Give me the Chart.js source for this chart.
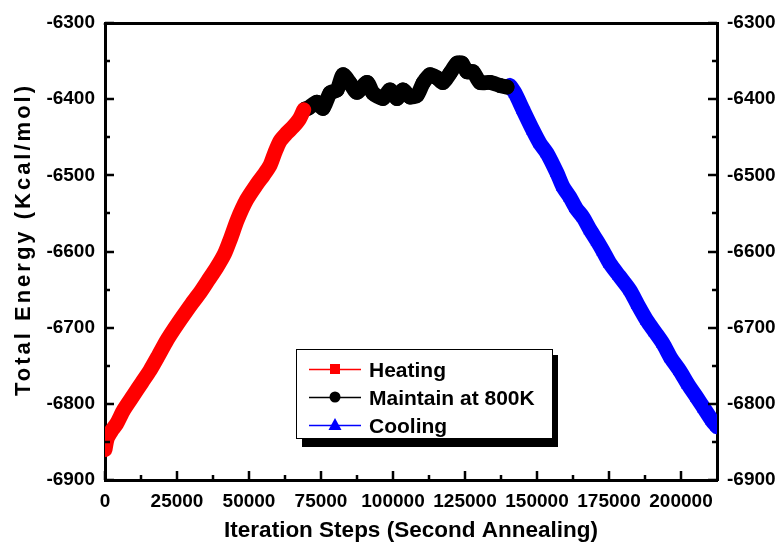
<!DOCTYPE html>
<html>
<head>
<meta charset="utf-8">
<script src="https://cdn.jsdelivr.net/npm/chart.js@4/dist/chart.umd.min.js"></script>
<style>
  html, body { margin: 0; padding: 0; background: #fff; }
  #wrap { width: 781px; height: 550px; }
</style>
</head>
<body>
<div id="wrap"><canvas id="c" width="781" height="550"></canvas></div>
<script>
// ---- data ----
const heatSteps = [0, 800, 2500, 4051, 6500, 9838, 12800, 15625, 18500, 21412, 24300, 27199, 30000, 32986, 35800, 38773, 41500, 43403, 46000, 49190, 52662, 55000, 57292, 59000, 60764, 63000, 65394, 67500, 69000];
const heatEnergy = [-6860, -6845, -6834, -6826, -6808, -6789, -6772, -6756, -6737, -6717, -6700, -6684, -6669, -6654, -6638, -6621, -6603, -6585, -6558, -6532, -6512, -6500, -6487, -6470, -6455, -6445, -6436, -6426, -6414];

const holdSteps = [69500, 70486, 73611, 75694, 78125, 80556, 82639, 85069, 87500, 90972, 93056, 96528, 98958, 101389, 103472, 105903, 108333, 110417, 112847, 115278, 117361, 119792, 122222, 123958, 125694, 127778, 130208, 133681, 137153, 139583];
const holdEnergy = [-6413, -6412, -6404, -6412, -6392, -6388, -6368, -6379, -6391, -6378, -6392, -6399, -6388, -6399, -6388, -6397, -6395, -6379, -6368, -6372, -6378, -6366, -6353, -6353, -6364, -6364, -6378, -6378, -6382, -6384];

const coolSteps = [140625, 142500, 145139, 148611, 151000, 153472, 156944, 159000, 161458, 163500, 165972, 168500, 171000, 173000, 175347, 178500, 182292, 185000, 188194, 191000, 193750, 196500, 199653, 202500, 205556, 208000, 210764, 212500];
const coolEnergy = [-6382, -6393, -6414, -6441, -6458, -6471, -6497, -6515, -6529, -6543, -6555, -6572, -6587, -6600, -6616, -6632, -6651, -6670, -6691, -6706, -6721, -6740, -6757, -6775, -6792, -6806, -6822, -6830];

const seriesNames = ['Heating', 'Maintain at 800K', 'Cooling'];
const xTicksMajor = [0, 25000, 50000, 75000, 100000, 125000, 150000, 175000, 200000];
const yTicksMajor = [-6900, -6800, -6700, -6600, -6500, -6400, -6300];
const xTitle = 'Iteration Steps (Second Annealing)';
const yTitle = 'Total Energy (Kcal/mol)';

const toXY = (xs, ys) => xs.map((x, i) => ({ x: x, y: ys[i] }));

Chart.defaults.font.family = "'Liberation Sans', Arial, sans-serif";
Chart.defaults.font.weight = 'bold';
Chart.defaults.color = '#000';

const X_MIN = 0, X_MAX = 212500, Y_MIN = -6900, Y_MAX = -6300;

// inward tick marks
const tickPlugin = {
  id: 'ticks',
  afterDraw(chart) {
    const ctx = chart.ctx, a = chart.chartArea;
    const xs = chart.scales.x, ys = chart.scales.y;
    ctx.save();
    ctx.strokeStyle = '#000';
    ctx.lineWidth = 2.5;
    ctx.beginPath();
    for (let v = X_MIN; v <= 200000; v += 12500) {
      const px = Math.round(xs.getPixelForValue(v));
      const major = v % 25000 === 0;
      const len = major ? 9 : 5;
      ctx.moveTo(px, a.bottom); ctx.lineTo(px, a.bottom - len);
      ctx.moveTo(px, a.top); ctx.lineTo(px, a.top + 2);
    }
    for (let v = Y_MIN; v <= Y_MAX; v += 50) {
      const py = Math.round(ys.getPixelForValue(v));
      const major = v % 100 === 0;
      const len = major ? 9 : 5;
      ctx.moveTo(a.left, py); ctx.lineTo(a.left + len, py);
      ctx.moveTo(a.right, py); ctx.lineTo(a.right - len, py);
    }
    ctx.stroke();
    ctx.restore();
  }
};

// y title with letter spacing, and the legend box
const decorPlugin = {
  id: 'decor',
  afterDraw(chart) {
    const ctx = chart.ctx;
    ctx.save();
    ctx.fillStyle = '#000';
    ctx.translate(24, 241);
    ctx.rotate(-Math.PI / 2);
    ctx.font = "bold 22px 'Liberation Sans', Arial, sans-serif";
    try { ctx.letterSpacing = '3px'; } catch (e) {}
    ctx.textAlign = 'center';
    ctx.textBaseline = 'middle';
    ctx.fillText(yTitle, 1.5, 0);
    ctx.restore();

    // legend
    ctx.save();
    ctx.fillStyle = '#000';
    ctx.fillRect(302, 355, 256, 92);
    ctx.fillStyle = '#fff';
    ctx.fillRect(296, 349, 257, 90);
    ctx.strokeStyle = '#000';
    ctx.lineWidth = 1;
    ctx.strokeRect(296.5, 349.5, 256, 89);
    const rows = [369, 397, 425];
    const ds = chart.data.datasets;
    ctx.font = "bold 21px 'Liberation Sans', Arial, sans-serif";
    ctx.textAlign = 'left';
    ctx.textBaseline = 'alphabetic';
    ds.forEach((d, i) => {
      const y = rows[i];
      ctx.strokeStyle = d.borderColor;
      ctx.lineWidth = 1.3;
      ctx.beginPath();
      ctx.moveTo(309, y + 0.5); ctx.lineTo(361, y + 0.5);
      ctx.stroke();
      ctx.fillStyle = d.borderColor;
      const cx = 335;
      if (i === 0) {
        ctx.fillRect(cx - 5, y - 5, 10, 10);
      } else if (i === 1) {
        ctx.beginPath(); ctx.arc(cx, y, 5.5, 0, Math.PI * 2); ctx.fill();
      } else {
        ctx.beginPath();
        ctx.moveTo(cx, y - 7); ctx.lineTo(cx + 6.5, y + 5); ctx.lineTo(cx - 6.5, y + 5);
        ctx.closePath(); ctx.fill();
      }
      ctx.fillStyle = '#000';
      ctx.fillText(d.label, 369, y + 7.5);
    });
    ctx.restore();
  }
};

const lineDs = (label, color, xs, ys, style, r) => ({
  label: label,
  data: toXY(xs, ys),
  borderColor: color,
  backgroundColor: color,
  borderWidth: 15,
  borderCapStyle: 'round',
  borderJoinStyle: 'round',
  pointStyle: style,
  pointRadius: r,
  pointBorderWidth: 0,
  pointHoverRadius: r,
  tension: 0.25,
  fill: false,
  clip: 0
});

new Chart(document.getElementById('c'), {
  type: 'line',
  data: {
    datasets: [
      lineDs(seriesNames[0], '#ff0000', heatSteps, heatEnergy, 'rect', 7),
      lineDs(seriesNames[1], '#000000', holdSteps, holdEnergy, 'circle', 7.5),
      lineDs(seriesNames[2], '#0000ff', coolSteps, coolEnergy, 'triangle', 8)
    ]
  },
  options: {
    responsive: false,
    animation: false,
    events: [],
    layout: { padding: 0 },
    plugins: { legend: { display: false }, tooltip: { enabled: false } },
    scales: {
      x: {
        type: 'linear', position: 'bottom', min: X_MIN, max: X_MAX,
        grid: { display: false, drawTicks: false },
        border: { display: true, width: 3, color: '#000' },
        afterBuildTicks: s => { s.ticks = xTicksMajor.map(v => ({ value: v })); },
        ticks: { autoSkip: false, maxRotation: 0, padding: 10, font: { size: 19, weight: 'bold' }, callback: v => String(v) },
        title: { display: true, text: xTitle, font: { size: 22.5, weight: 'bold' }, padding: { top: 0, bottom: 6 } },
        afterFit: s => { s.height = 70; }
      },
      x2: {
        type: 'linear', position: 'top', min: X_MIN, max: X_MAX,
        grid: { display: false, drawTicks: false },
        border: { display: true, width: 3, color: '#000' },
        ticks: { display: false },
        afterFit: s => { s.height = 23; }
      },
      y: {
        type: 'linear', position: 'left', min: Y_MIN, max: Y_MAX,
        grid: { display: false, drawTicks: false },
        border: { display: true, width: 3, color: '#000' },
        afterBuildTicks: s => { s.ticks = yTicksMajor.map(v => ({ value: v })); },
        ticks: { padding: 10, font: { size: 19, weight: 'bold' }, callback: v => String(v) },
        afterFit: s => { s.width = 105; }
      },
      y2: {
        type: 'linear', position: 'right', min: Y_MIN, max: Y_MAX,
        grid: { display: false, drawTicks: false },
        border: { display: true, width: 3, color: '#000' },
        afterBuildTicks: s => { s.ticks = yTicksMajor.map(v => ({ value: v })); },
        ticks: { padding: 10, font: { size: 19, weight: 'bold' }, callback: v => String(v) },
        afterFit: s => { s.width = 64; }
      }
    }
  },
  plugins: [tickPlugin, decorPlugin]
});
</script>
</body>
</html>
